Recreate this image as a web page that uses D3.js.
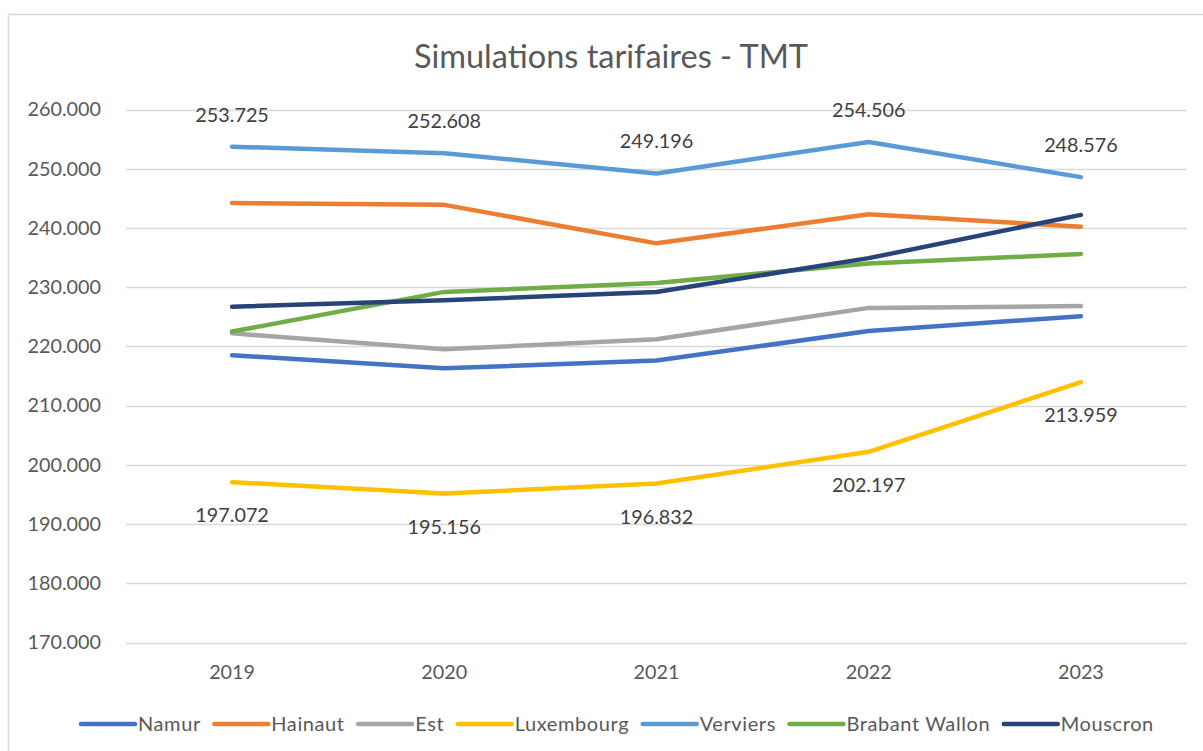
<!DOCTYPE html>
<html>
<head>
<meta charset="utf-8">
<script src="https://cdn.jsdelivr.net/npm/d3@7"></script>
<style>
  html, body { margin: 0; padding: 0; background: #fff; }
  svg { display: block; }
  text { font-family: Lato, "Open Sans", sans-serif; }
</style>
</head>
<body>
<svg id="chart" width="1203" height="751"></svg>
<script>
const years = ["2019", "2020", "2021", "2022", "2023"];
const seriesNames = ["Namur", "Hainaut", "Est", "Luxembourg", "Verviers", "Brabant Wallon", "Mouscron"];
const namur = [218.5, 216.3, 217.6, 222.6, 225.1];
const hainaut = [244.2, 243.9, 237.4, 242.3, 240.2];
const est = [222.2, 219.5, 221.2, 226.5, 226.8];
const luxembourg = [197.072, 195.156, 196.832, 202.197, 213.959];
const verviers = [253.725, 252.608, 249.196, 254.506, 248.576];
const brabantWallon = [222.5, 229.2, 230.7, 234.0, 235.6];
const mouscron = [226.7, 227.8, 229.2, 234.9, 242.2];
const yTicks = [170, 180, 190, 200, 210, 220, 230, 240, 250, 260];
const title = "Simulations tarifaires - TMT";

const colors = ["#4472C4", "#ED7D31", "#A5A5A5", "#FFC000", "#5B9BD5", "#70AD47", "#264478"];
const allValues = [namur, hainaut, est, luxembourg, verviers, brabantWallon, mouscron];
const series = seriesNames.map((n, i) => ({ name: n, values: allValues[i], color: colors[i] }));

const fmt = v => d3.format(".3f")(v);
const NUM = 19.8;

const svg = d3.select("#chart");

svg.append("rect").attr("x", 8.5).attr("y", 14.5).attr("width", 1200).attr("height", 745)
  .attr("fill", "#fff").attr("stroke", "#D9D9D9").attr("stroke-width", 1.5);

const x = d3.scaleBand().domain(years).range([126, 1187]);
const y = d3.scaleLinear().domain([170, 260]).range([642.5, 109.5]);

svg.append("text").attr("x", 611).attr("y", 68).attr("text-anchor", "middle")
  .attr("font-size", 32.5).attr("fill", "#595959").text(title);

svg.append("g").selectAll("line").data(yTicks).join("line")
  .attr("x1", 126).attr("x2", 1187)
  .attr("y1", d => Math.round(y(d)) + 0.5).attr("y2", d => Math.round(y(d)) + 0.5)
  .attr("stroke", "#D9D9D9").attr("stroke-width", 1.3);

const yAxis = svg.append("g").attr("transform", "translate(126,0)")
  .call(d3.axisLeft(y).tickValues(yTicks).tickFormat(fmt).tickSize(0).tickPadding(25));
yAxis.select(".domain").remove();
yAxis.selectAll("text").attr("font-size", NUM).attr("fill", "#595959").attr("font-family", "Lato, sans-serif");

const xAxis = svg.append("g").attr("transform", "translate(0,642.5)")
  .call(d3.axisBottom(x).tickSize(0).tickPadding(22));
xAxis.select(".domain").remove();
xAxis.selectAll("text").attr("font-size", NUM).attr("fill", "#595959").attr("font-family", "Lato, sans-serif");

const line = d3.line().x((d, i) => x(years[i]) + x.bandwidth() / 2).y(d => y(d));
svg.append("g").selectAll("path").data(series).join("path")
  .attr("d", d => line(d.values))
  .attr("fill", "none").attr("stroke", d => d.color)
  .attr("stroke-width", 4.5).attr("stroke-linecap", "round").attr("stroke-linejoin", "round");

const labG = svg.append("g");
labG.selectAll("text.ver").data(verviers).join("text")
  .attr("class", "ver")
  .attr("x", (d, i) => x(years[i]) + x.bandwidth() / 2)
  .attr("y", d => y(d) - 25)
  .attr("text-anchor", "middle").attr("font-size", NUM).attr("fill", "#404040")
  .text(fmt);
labG.selectAll("text.lux").data(luxembourg).join("text")
  .attr("class", "lux")
  .attr("x", (d, i) => x(years[i]) + x.bandwidth() / 2)
  .attr("y", d => y(d) + 40)
  .attr("text-anchor", "middle").attr("font-size", NUM).attr("fill", "#404040")
  .text(fmt);

const leg = svg.append("g");
let lx = 81;
const ly = 724;
series.forEach(s => {
  leg.append("line").attr("x1", lx).attr("x2", lx + 54).attr("y1", ly).attr("y2", ly)
    .attr("stroke", s.color).attr("stroke-width", 4.5).attr("stroke-linecap", "round");
  const t = leg.append("text").attr("x", lx + 57).attr("y", ly + 7)
    .attr("font-size", 20).attr("letter-spacing", 0.6).attr("fill", "#595959").text(s.name);
  const w = t.node().getComputedTextLength();
  lx = lx + 57 + w + 13.5;
});
</script>
</body>
</html>
